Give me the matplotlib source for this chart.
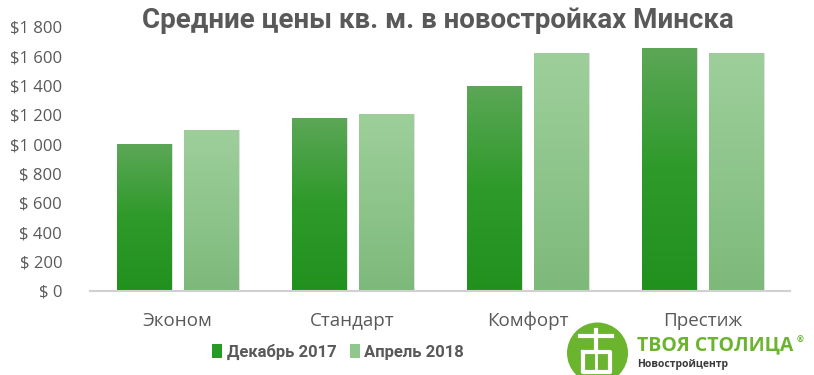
import matplotlib
matplotlib.use("Agg")
import matplotlib.pyplot as plt
import numpy as np
from matplotlib.colors import LinearSegmentedColormap
from matplotlib.patches import Patch, Circle

# data
categories = ["Эконом", "Стандарт", "Комфорт", "Престиж"]
dec_2017 = [1000, 1180, 1400, 1660]
apr_2018 = [1100, 1210, 1620, 1625]
series_names = ["Декабрь 2017", "Апрель 2018"]
yticks = [0, 200, 400, 600, 800, 1000, 1200, 1400, 1600, 1800]

TEXT = "#595959"
FONT = ["Open Sans", "DejaVu Sans"]
TITLE_FONT = ["Liberation Sans Narrow", "Roboto", "DejaVu Sans"]

dec_cmap = LinearSegmentedColormap.from_list("dec", ["#21911e", "#2e9a2a", "#5ca757"])
apr_cmap = LinearSegmentedColormap.from_list("apr", ["#7db97a", "#8ec58b", "#9ecf9b"])


def fmt_price(v):
    if v >= 1000:
        return "$%d %03d" % (v // 1000, v % 1000)
    return "$ %d" % v


fig = plt.figure(figsize=(8.14, 3.75), dpi=100)
ax = fig.add_axes([90 / 814, 84 / 375, 700 / 814, 264 / 375])

x = np.arange(len(categories))
width = 0.31
offset = 0.19
grad = np.linspace(0, 1, 256).reshape(-1, 1)

for vals, shift, cmap in [(dec_2017, -offset, dec_cmap), (apr_2018, offset, apr_cmap)]:
    # soft shadow
    ax.bar(x + shift + 0.012, vals, width, color="#000000", alpha=0.12, zorder=1)
    bars = ax.bar(x + shift, vals, width, color="none", zorder=2)
    for b in bars:
        x0, w, h = b.get_x(), b.get_width(), b.get_height()
        im = ax.imshow(grad, cmap=cmap, origin="lower", aspect="auto",
                       extent=[x0, x0 + w, 0, h], zorder=2)
        im.set_clip_path(b)

ax.set_xlim(-0.5, 3.5)
ax.set_ylim(0, 1800)
ax.set_yticks(yticks)
ax.set_yticklabels([fmt_price(v) for v in yticks], family=FONT, fontsize=12, color=TEXT)
ax.set_xticks(x)
ax.set_xticklabels(categories, family=FONT, fontsize=13.5, color=TEXT)
ax.tick_params(axis="both", length=0)
ax.tick_params(axis="x", pad=15)
ax.tick_params(axis="y", pad=20)
for s in ["top", "right", "left"]:
    ax.spines[s].set_visible(False)
ax.spines["bottom"].set_color("#d0d0d0")
ax.spines["bottom"].set_linewidth(1.5)

fig.text(438 / 814, 1 - 20 / 375, "Средние цены кв. м. в новостройках Минска",
         ha="center", va="center", fontsize=20, fontweight="bold",
         color=TEXT, family=TITLE_FONT)

handles = [Patch(facecolor="#2a9a27", label=series_names[0]),
           Patch(facecolor="#8fc78c", label=series_names[1])]
fig.legend(handles=handles, loc="center", bbox_to_anchor=(338 / 814, 1 - 352 / 375),
           ncol=2, frameon=False, handlelength=0.6, handleheight=0.9,
           handletextpad=0.25, columnspacing=0.8,
           prop={"family": TITLE_FONT, "weight": "bold", "size": 12}, labelcolor=TEXT)

# logo
logo_green = "#6ab42e"
lax = fig.add_axes([0, 0, 1, 1], zorder=-1)
lax.set_xlim(0, 814)
lax.set_ylim(375, 0)
lax.axis("off")
lax.add_patch(Circle((597.5, 353), 30.5, facecolor=logo_green, edgecolor="none"))
# simple white glyph in the emblem
lax.plot([580, 612], [336, 336], color="white", lw=3)
lax.plot([596, 596], [330, 350], color="white", lw=3)
lax.plot([583, 610, 610, 583, 583], [352, 352, 372, 372, 352], color="white", lw=3)
lax.plot([596, 596], [352, 372], color="white", lw=2)
lax.text(637, 345, "ТВОЯ СТОЛИЦА", ha="left", va="center",
         fontsize=14, fontweight="bold", color=logo_green, family=FONT)
lax.text(797, 340, "®", ha="left", va="center",
         fontsize=6, fontweight="bold", color=logo_green, family=FONT)
lax.text(637, 365, "Новостройцентр", ha="left", va="center",
         fontsize=7.5, fontweight="bold", color="#3a3a3a", family=FONT)

fig.savefig("out.png", dpi=100, facecolor="white")
